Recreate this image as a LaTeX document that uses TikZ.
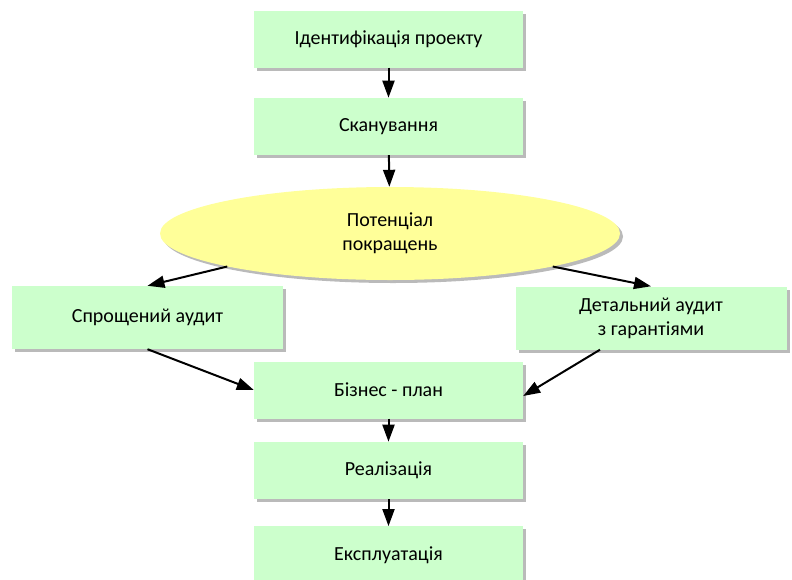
\documentclass[tikz,border=0pt]{standalone}
\usepackage{fontspec}
\setmainfont{Carlito}
\usepackage{tikz}
\usetikzlibrary{arrows.meta,shapes,positioning,shadows}

\definecolor{stagegreen}{HTML}{CCFFCC}
\definecolor{potyellow}{HTML}{FFFF99}

\begin{document}
\begin{tikzpicture}[
    x=1pt, y=-1pt,
    font=\fontsize{20}{24}\selectfont,
    stage/.style={rectangle,fill=stagegreen,minimum width=269pt,minimum height=57pt,
        drop shadow={shadow xshift=3pt,shadow yshift=-3pt,fill=black!45,opacity=0.6}},
    potential/.style={ellipse,fill=potyellow,minimum width=460pt,minimum height=93pt,
        drop shadow={shadow xshift=3pt,shadow yshift=-3pt,fill=black!45,opacity=0.6}},
    audit/.style={stage,minimum width=271pt,minimum height=63pt,align=center},
    link/.style={-{Triangle[length=17pt,width=12pt]},line width=2pt}
]
    \useasboundingbox (0,0) rectangle (792,579);

    % Nodes
    \node[stage] (ident) at (388.5,39) {Ідентифікація проекту};
    \node[stage] (scan) [below=30pt of ident] {Сканування};
    \node[potential,align=center] (pot) at (390,233.5) {Потенціал\\покращень};
    \node[audit] (simple) at (147.5,317.5) {Спрощений аудит};
    \node[audit] (detail) at (651,318) {Детальний аудит\\з гарантіями};
    \node[stage] (plan) at (388.5,390) {Бізнес - план};
    \node[stage] (real) [below=23pt of plan] {Реалізація};
    \node[stage] (expl) [below=27pt of real] {Експлуатація};

    % Edges
    \draw[link] (ident) -- (scan);
    \draw[link] (scan) -- (pot);
    \draw[link] (pot.south west) -- (simple.north);
    \draw[link] (pot.south east) -- (detail.north);
    \draw[link] (simple.south) -- (plan.west);
    \draw[link] ([xshift=-51pt]detail.south) -- ([yshift=-6pt]plan.east);
    \draw[link] (plan) -- (real);
    \draw[link] (real) -- (expl);
\end{tikzpicture}
\end{document}
